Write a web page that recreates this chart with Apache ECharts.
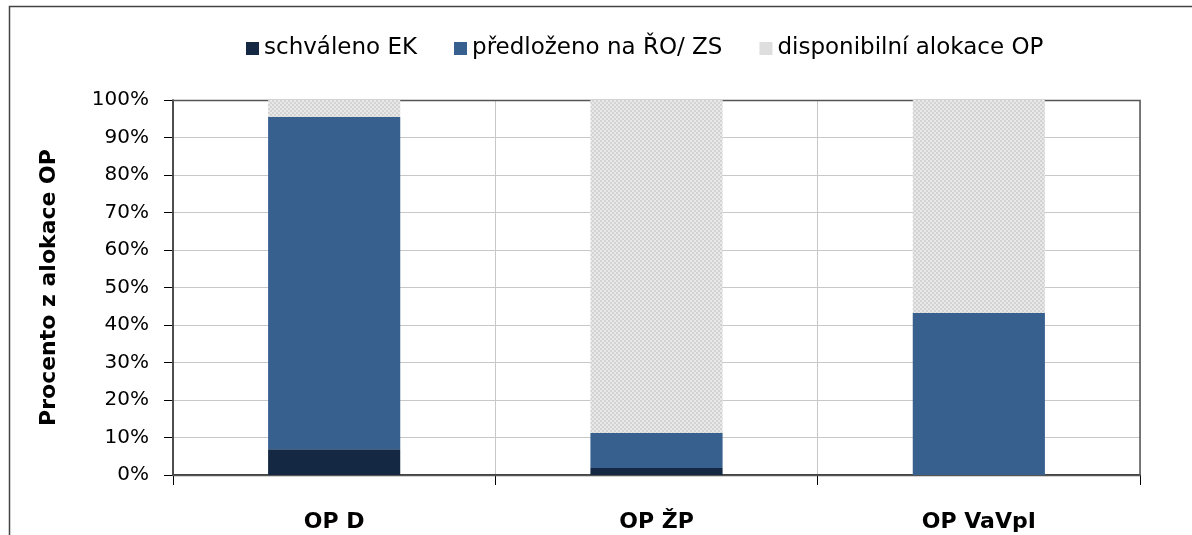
<!DOCTYPE html>
<html>
<head>
<meta charset="utf-8">
<script src="https://cdn.jsdelivr.net/npm/echarts@6/dist/echarts.min.js"></script>
<style>
html,body{margin:0;padding:0;background:#fff;}
#chart{width:1192px;height:535px;}
</style>
</head>
<body>
<div id="chart"></div>
<script>
const categories = ['OP D', 'OP ŽP', 'OP VaVpI'];
const seriesNames = ['schváleno EK', 'předloženo na ŘO/ ZS', 'disponibilní alokace OP'];
const schvaleno = [6.9, 1.9, 0];
const predlozeno = [88.6, 9.3, 43.2];
const disponibilni = [4.5, 88.8, 56.8];
const yTicks = [0, 10, 20, 30, 40, 50, 60, 70, 80, 90, 100];

function makePattern() {
  const c = document.createElement('canvas');
  c.width = 4; c.height = 4;
  const g = c.getContext('2d');
  g.fillStyle = '#e8e8e8'; g.fillRect(0, 0, 4, 4);
  g.fillStyle = '#d3d3d3';
  g.fillRect(0, 0, 2, 2); g.fillRect(2, 2, 2, 2);
  return c;
}
const pattern = { image: makePattern(), repeat: 'repeat' };

const FONT = '"DejaVu Sans", sans-serif';
const chart = echarts.init(document.getElementById('chart'));
chart.setOption({
  animation: false,
  textStyle: { fontFamily: FONT },
  graphic: [{
    type: 'rect', z: -10, silent: true,
    shape: { x: 9.5, y: 6.5, width: 1250, height: 600 },
    style: { fill: 'none', stroke: '#444', lineWidth: 1.5 }
  }, {
    type: 'rect', z: 1, silent: true,
    shape: { x: 173, y: 100.5, width: 967, height: 375 },
    style: { fill: 'none', stroke: '#555', lineWidth: 1.5 }
  }],
  legend: {
    top: 32, left: 241,
    icon: 'rect',
    itemWidth: 13, itemHeight: 13, itemGap: 37,
    textStyle: { fontSize: 23, color: '#000', fontFamily: FONT },
    data: seriesNames.map((n, i) => i === 2 ? { name: n, itemStyle: { color: '#dedede' } } : n)
  },
  grid: { left: 173, right: 52, top: 100, bottom: 60 },
  xAxis: {
    type: 'category', data: categories,
    axisLine: { lineStyle: { color: '#000', width: 1.5 } },
    axisTick: { show: true, length: 10, lineStyle: { color: '#000' } },
    axisLabel: { margin: 36, fontSize: 22, fontWeight: 'bold', color: '#000', fontFamily: FONT },
    splitLine: { show: true, lineStyle: { color: '#c8c8c8', width: 1 } }
  },
  yAxis: {
    type: 'value', min: 0, max: 100, interval: 10,
    name: 'Procento z alokace OP', nameLocation: 'middle', nameGap: 113,
    nameTextStyle: { fontSize: 22, fontWeight: 'bold', color: '#000', fontFamily: FONT },
    axisLine: { show: true, lineStyle: { color: '#000', width: 1.5 } },
    axisTick: { show: true, length: 9, lineStyle: { color: '#000' } },
    axisLabel: { fontSize: 20, color: '#000', margin: 24, fontFamily: FONT, formatter: v => yTicks.includes(v) ? v + '%' : '' },
    splitLine: { show: true, lineStyle: { color: '#c8c8c8', width: 1 } }
  },
  series: [
    { name: seriesNames[0], type: 'bar', stack: 's', barWidth: '41%', data: schvaleno, itemStyle: { color: '#152843' } },
    { name: seriesNames[1], type: 'bar', stack: 's', data: predlozeno, itemStyle: { color: '#38608f' } },
    { name: seriesNames[2], type: 'bar', stack: 's', data: disponibilni, itemStyle: { color: pattern } }
  ]
});
</script>
</body>
</html>
